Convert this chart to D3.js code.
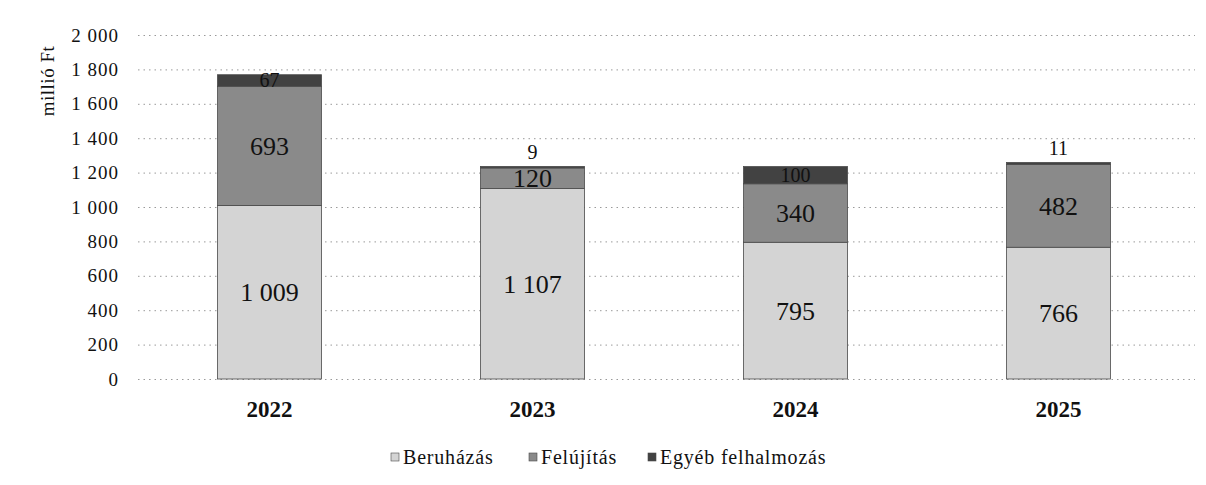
<html>
<head>
<meta charset="utf-8">
<script src="https://d3js.org/d3.v7.min.js"></script>
<style>
  body { margin: 0; background: #fff; }
  svg text { font-family: "Liberation Serif", "DejaVu Serif", serif; fill: #111; }
  .grid line { stroke: #9a9a9a; stroke-dasharray: 1.5,4; }
  .grid .domain { display: none; }
</style>
</head>
<body>
<div id="chart"></div>
<script>
const years = ["2022", "2023", "2024", "2025"];
const seriesNames = ["Beruházás", "Felújítás", "Egyéb felhalmozás"];
const beruhazas = [1009, 1107, 795, 766];
const felujitas = [693, 120, 340, 482];
const egyeb = [67, 9, 100, 11];
const yTicks = [0, 200, 400, 600, 800, 1000, 1200, 1400, 1600, 1800, 2000];
const colors = ["#d4d4d4", "#8a8a8a", "#424242"];

const W = 1206, H = 485;
const serif = '"Liberation Serif", "DejaVu Serif", serif';
const svg = d3.select("#chart").append("svg").attr("width", W).attr("height", H)
  .style("font-family", serif);

const x = d3.scaleBand().domain(years).range([138, 1190]).paddingInner(0.6).paddingOuter(0.3);
const y = d3.scaleLinear().domain([0, 2000]).range([379, 35]);

// grid
svg.append("g").attr("class", "grid")
  .attr("transform", "translate(138,0)")
  .call(d3.axisRight(y).tickValues(yTicks).tickSize(1057).tickFormat(""));

// y labels
const fmt = v => d3.format(",")(v).replace(/,/g, " ");
svg.append("g").selectAll("text").data(yTicks).join("text")
  .attr("x", 119).attr("y", d => y(d)).attr("dy", "0.35em")
  .attr("text-anchor", "end").style("font-size", "19px").style("letter-spacing", "1px")
  .style("font-family", serif)
  .text(d => fmt(d));

svg.append("text")
  .attr("transform", "translate(47,81) rotate(-90)")
  .attr("text-anchor", "middle").attr("dy", "0.35em")
  .style("font-size", "19px").style("letter-spacing", "0.5px").style("font-family", serif)
  .text("millió Ft");

const rows = years.map((yr, i) => ({ year: yr, s0: beruhazas[i], s1: felujitas[i], s2: egyeb[i] }));
const stack = d3.stack().keys(["s0", "s1", "s2"])(rows);

const bw = 104;
const groups = svg.append("g").selectAll("g").data(stack).join("g")
  .attr("fill", (d, i) => colors[i]);
groups.selectAll("rect").data(d => d).join("rect")
  .attr("x", d => x(d.data.year) + x.bandwidth() / 2 - bw / 2)
  .attr("width", bw)
  .attr("y", d => y(d[1]))
  .attr("height", d => y(d[0]) - y(d[1]))
  .attr("stroke", "#4a4a4a").attr("stroke-width", 0.8);

// value labels; the thin top segments get their label just above the bar
stack.forEach((layer, li) => {
  svg.append("g").selectAll("text").data(layer).join("text")
    .attr("x", d => x(d.data.year) + x.bandwidth() / 2)
    .attr("y", d => (li === 2 && d[1] - d[0] < 30) ? y(d[1]) - 14 : y((d[0] + d[1]) / 2))
    .attr("dy", "0.35em").attr("text-anchor", "middle")
    .style("font-size", li === 2 ? "20px" : "26px").style("font-family", serif)
    .text(d => fmt(d[1] - d[0]));
});

// x labels
svg.append("g").selectAll("text").data(years).join("text")
  .attr("x", d => x(d) + x.bandwidth() / 2).attr("y", 409)
  .attr("dy", "0.35em").attr("text-anchor", "middle")
  .style("font-size", "23px").style("font-weight", "bold").style("font-family", serif)
  .text(d => d);

// legend
const legX = [391, 529, 648];
const leg = svg.append("g").selectAll("g").data(seriesNames).join("g")
  .attr("transform", (d, i) => `translate(${legX[i]},457)`);
leg.append("rect").attr("x", 0).attr("y", -4).attr("width", 8).attr("height", 8)
  .attr("fill", (d, i) => colors[i]).attr("stroke", "#4a4a4a").attr("stroke-width", 0.6);
leg.append("text").attr("x", 12).attr("dy", "0.35em")
  .style("font-size", "20px").style("letter-spacing", "0.8px").style("font-family", serif)
  .text(d => d);
</script>
</body>
</html>
